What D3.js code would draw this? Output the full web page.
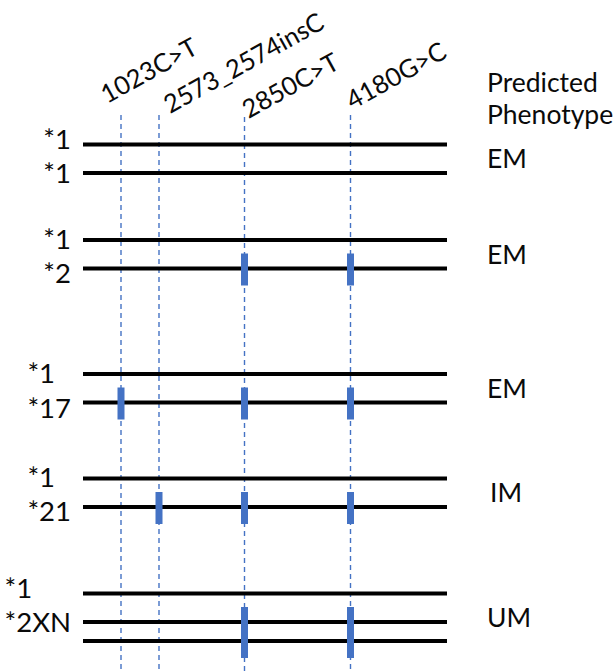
<!DOCTYPE html>
<html>
<head>
<meta charset="utf-8">
<script src="https://cdn.jsdelivr.net/npm/d3@7"></script>
<style>
  body { margin: 0; background: #fff; }
  text { font-family: Lato, "Open Sans", sans-serif; fill: #0a0a0a; }
</style>
</head>
<body>
<div id="chart-area"></div>
<script>
// variant sites (column order along the gene)
var variants = ["1023C>T", "2573_2574insC", "2850C>T", "4180G>C"];

// genotypes: allele names per row, predicted phenotype per group
var groupAlleles = [
    ["*1", "*1"],
    ["*1", "*2"],
    ["*1", "*17"],
    ["*1", "*21"],
    ["*1", "*2XN", ""]
];
var phenotypes = ["EM", "EM", "EM", "IM", "UM"];

// which variants each group carries, and on which rows (index in the group)
var groupVariants = [
    [],
    ["2850C>T", "4180G>C"],
    ["1023C>T", "2850C>T", "4180G>C"],
    ["2573_2574insC", "2850C>T", "4180G>C"],
    ["2850C>T", "4180G>C"]
];
var variantRows = [[], [1], [1], [1], [1, 2]];

var width = 616, height = 671;
var lineX0 = 83, lineX1 = 447;
var rowGap = 28.5;
var blue = "#4472C4";

// schematic column positions (not to bp scale)
var x = d3.scaleOrdinal()
    .domain(variants)
    .range([121, 159, 244.5, 350.5]);

// group top rows
var y = d3.scaleOrdinal()
    .domain(d3.range(groupAlleles.length))
    .range([144.5, 240, 374, 478.5, 593.5]);

// row offset within a group (third line of *2XN sits closer)
function rowY(g, r){
    var off = r < 2 ? r * rowGap : rowGap + 19;
    return y(g) + off;
}

var svg = d3.select("#chart-area").append("svg")
    .attr("width", width)
    .attr("height", height);

// dashed guides
var guideTop = [115, 115, 117, 115];
svg.selectAll("line.guide")
    .data(variants)
    .enter()
    .append("line")
        .attr("class", "guide")
        .attr("x1", function(d){ return x(d); })
        .attr("x2", function(d){ return x(d); })
        .attr("y1", function(d, i){ return guideTop[i]; })
        .attr("y2", height)
        .attr("stroke", blue)
        .attr("stroke-width", 1.4)
        .attr("stroke-dasharray", "5,4");

// variant labels, rotated
var labelDx = [-14, 11, 4, 2];
var labelY = [104, 114, 119, 110];
svg.selectAll("text.variant")
    .data(variants)
    .enter()
    .append("text")
        .attr("class", "variant")
        .attr("transform", function(d, i){
            return "translate(" + (x(d) + labelDx[i]) + "," + labelY[i] + ") rotate(-29)";
        })
        .attr("font-size", 25.5)
        .text(function(d){ return d; });

// rows
var rows = [];
groupAlleles.forEach(function(alleles, g){
    alleles.forEach(function(a, r){
        rows.push({ g: g, r: r, allele: a, y: rowY(g, r) });
    });
});

svg.selectAll("line.row")
    .data(rows)
    .enter()
    .append("line")
        .attr("class", "row")
        .attr("x1", lineX0)
        .attr("x2", lineX1)
        .attr("y1", function(d){ return d.y; })
        .attr("y2", function(d){ return d.y; })
        .attr("stroke", "#000")
        .attr("stroke-width", 4);

// allele labels, left aligned per group, block ending near x=71
var shiftTop = [4, 9, 9, 8, 4];
var shiftBottom = [10, 14, 15, 14, 10];
var alleleText = svg.selectAll("text.allele")
    .data(rows.filter(function(d){ return d.allele !== ""; }))
    .enter()
    .append("text")
        .attr("class", "allele")
        .attr("font-size", 27.5)
        .attr("y", function(d){ return d.y + (d.r === 0 ? shiftTop[d.g] : shiftBottom[d.g]); })
        .text(function(d){ return d.allele; });

var maxW = {};
alleleText.each(function(d){
    var w = this.getComputedTextLength();
    maxW[d.g] = Math.max(maxW[d.g] || 0, w);
});
alleleText.attr("x", function(d){ return 71 - maxW[d.g]; });

// variant marks
var marks = [];
groupVariants.forEach(function(vs, g){
    var rs = variantRows[g];
    vs.forEach(function(v){
        marks.push({ v: v, y0: rowY(g, rs[0]) - 15, y1: rowY(g, rs[rs.length - 1]) + 17 });
    });
});
svg.selectAll("rect.mark")
    .data(marks)
    .enter()
    .append("rect")
        .attr("class", "mark")
        .attr("x", function(d){ return x(d.v) - 3.5; })
        .attr("width", 7)
        .attr("y", function(d){ return d.y0; })
        .attr("height", function(d){ return d.y1 - d.y0; })
        .attr("fill", blue);

// phenotype column
svg.append("text")
    .attr("x", 487)
    .attr("y", 92)
    .attr("font-size", 26.5)
    .text("Predicted");
svg.append("text")
    .attr("x", 487)
    .attr("y", 124)
    .attr("font-size", 26.5)
    .text("Phenotype");

svg.selectAll("text.pheno")
    .data(phenotypes)
    .enter()
    .append("text")
        .attr("class", "pheno")
        .attr("x", function(d){ return d === "IM" ? 490 : 487; })
        .attr("y", function(d, g){
            var n = groupAlleles[g].length;
            return (rowY(g, 0) + rowY(g, n - 1)) / 2 + 9.5;
        })
        .attr("font-size", 26.5)
        .text(function(d){ return d; });
</script>
</body>
</html>
